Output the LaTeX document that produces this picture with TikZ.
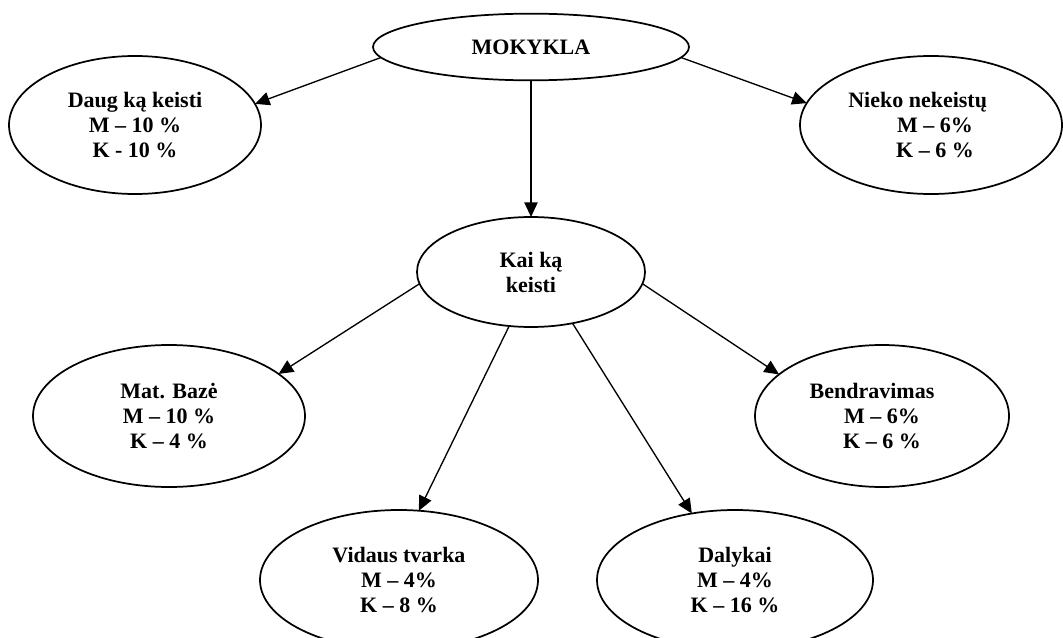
\documentclass[tikz,border=0pt]{standalone}
\usepackage{fontspec}
\setmainfont{Liberation Serif}
\usetikzlibrary{arrows.meta,shapes.geometric}

\begin{document}
\begin{tikzpicture}[
        x=0.75pt, y=-0.75pt,
        font=\fontsize{16.5}{18.75}\selectfont\bfseries,
        bubble/.style={ellipse, draw=black, line width=1.3pt, inner sep=0pt, outer sep=0pt, align=center},
        arrow/.style={-{Triangle[length=11pt,width=10pt]}, line width=1pt}
    ]
        \useasboundingbox (0,0) rectangle (1063,638);

        \node[bubble, minimum width=237pt, minimum height=50pt] (mokykla) at (531,47) {MOKYKLA};
        \node[bubble, minimum width=189pt, minimum height=103.5pt] (daug) at (135,125) {Daug ką keisti \\ M – 10 \% \\ K - 10 \%};
        \node[bubble, minimum width=196.5pt, minimum height=103.5pt] (nieko) at (931,125) {Nieko nekeistų\hspace*{20pt} \\ \hspace*{6pt}M – 6\% \\ \hspace*{6pt}K – 6 \%};
        \node[bubble, minimum width=171pt, minimum height=82.5pt] (kai) at (531,272) {Kai ką \\ keisti};

        \node[bubble, minimum width=204pt, minimum height=106.5pt] (bazes) at (169,416) {Mat. Bazė \\ M – 10 \% \\ K – 4 \%};
        \node[bubble, minimum width=190.5pt, minimum height=106.5pt] (bendr) at (882,416) {Bendravimas\hspace*{15pt} \\ M – 6\% \\ K – 6 \%};
        \node[bubble, minimum width=208.5pt, minimum height=105pt] (tvarka) at (399,580) {Vidaus tvarka \\ M – 4\% \\ K – 8 \%};
        \node[bubble, minimum width=207pt, minimum height=105pt] (dalykai) at (735,580) {Dalykai \\ M – 4\% \\ K – 16 \%};

        \draw[arrow] (mokykla.184) -- (daug.10);
        \draw[arrow] (mokykla.356) -- (nieko.170);
        \draw[arrow] (mokykla.south) -- (kai.north);

        \draw[arrow] (kai.186) -- (bazes.21);
        \draw[arrow] (kai.248) -- (tvarka.74);
        \draw[arrow] (kai.309) -- (dalykai.123);
        \draw[arrow] (kai.354) -- (bendr.158);
    \end{tikzpicture}
\end{document}
